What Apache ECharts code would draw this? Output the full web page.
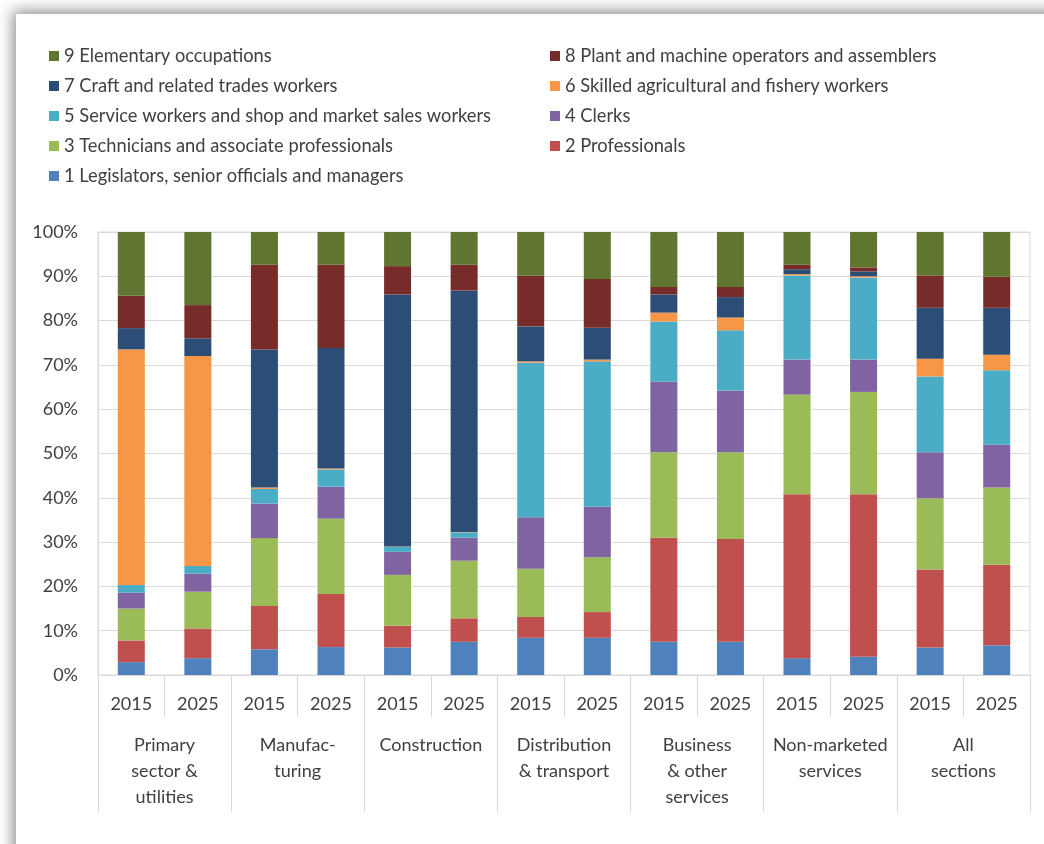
<!DOCTYPE html>
<html>
<head>
<meta charset="utf-8">
<script src="https://cdn.jsdelivr.net/npm/echarts@6/dist/echarts.min.js"></script>
<style>
  html, body { margin: 0; padding: 0; width: 1044px; height: 844px; overflow: hidden; background: #ffffff; }
  #frame { position: absolute; left: 16px; top: 14px; width: 1200px; height: 1000px; background: #fff;
           box-shadow: 0 0 14px 3px rgba(0,0,0,0.45); }
  #chart { position: absolute; left: 0; top: 0; width: 1044px; height: 844px; }
</style>
</head>
<body>
<div id="frame"></div>
<div id="chart"></div>
<script>
// Categories
const groups = ["Primary\nsector &\nutilities", "Manufac-\nturing", "Construction", "Distribution\n& transport", "Business\n& other\nservices", "Non-marketed\nservices", "All\nsections"];
const years = ["2015", "2025", "2015", "2025", "2015", "2025", "2015", "2025", "2015", "2025", "2015", "2025", "2015", "2025"];
const yTicks = [0, 10, 20, 30, 40, 50, 60, 70, 80, 90, 100];

// Series names
const names = [
  "1 Legislators, senior officials and managers",
  "2 Professionals",
  "3 Technicians and associate professionals",
  "4 Clerks",
  "5 Service workers and shop and market sales workers",
  "6 Skilled agricultural and fishery workers",
  "7 Craft and related trades workers",
  "8 Plant and machine operators and assemblers",
  "9 Elementary occupations"
];

// Series values (% share), order follows years/groups
const occ1 = [2.9, 3.8, 5.8, 6.3, 6.2, 7.5, 8.4, 8.4, 7.5, 7.5, 3.8, 4.1, 6.2, 6.7];
const occ2 = [4.9, 6.7, 9.8, 12.0, 4.9, 5.3, 4.7, 5.8, 23.5, 23.2, 37.0, 36.7, 17.6, 18.2];
const occ3 = [7.2, 8.3, 15.3, 17.0, 11.5, 13.0, 10.9, 12.4, 19.3, 19.6, 22.5, 23.1, 16.1, 17.4];
const occ4 = [3.6, 4.1, 7.8, 7.2, 5.2, 5.2, 11.6, 11.4, 15.9, 13.9, 7.9, 7.3, 10.4, 9.7];
const occ5 = [1.7, 1.7, 3.3, 3.9, 1.1, 1.2, 34.9, 32.8, 13.6, 13.6, 19.0, 18.5, 17.1, 16.8];
const occ6 = [53.2, 47.4, 0.3, 0.2, 0.1, 0.1, 0.3, 0.4, 2.0, 2.9, 0.3, 0.3, 4.0, 3.5];
const occ7 = [4.8, 4.0, 31.2, 27.2, 56.9, 54.5, 7.9, 7.2, 4.1, 4.6, 1.1, 1.1, 11.5, 10.6];
const occ8 = [7.3, 7.5, 19.1, 18.8, 6.4, 5.8, 11.5, 11.0, 1.7, 2.3, 1.0, 0.9, 7.3, 7.0];
const occ9 = [14.4, 16.5, 7.4, 7.4, 7.7, 7.4, 9.8, 10.6, 12.4, 12.4, 7.4, 8.0, 9.8, 10.1];

const values = [occ1, occ2, occ3, occ4, occ5, occ6, occ7, occ8, occ9];
const colors = ["#4F81BD", "#C0504D", "#9BBB59", "#8064A2", "#4BACC6", "#F79646", "#2C4D75", "#772C2A", "#5F7530"];

const FONT = "Lato";
const TXT = "#404040";
const GRID = "#D9D9D9";

const chart = echarts.init(document.getElementById('chart'), null, { renderer: 'canvas' });

const legendCommon = {
  orient: 'vertical',
  top: 41,
  itemWidth: 10,
  itemHeight: 10,
  itemGap: 10,
  icon: 'rect',
  selectedMode: false,
  textStyle: { fontFamily: FONT, fontSize: 18.3, color: TXT, lineHeight: 20 }
};

chart.setOption({
  animation: false,
  textStyle: { fontFamily: FONT },
  color: colors,
  legend: [
    Object.assign({}, legendCommon, { left: 44, data: [names[8], names[6], names[4], names[2], names[0]] }),
    Object.assign({}, legendCommon, { left: 545, data: [names[7], names[5], names[3], names[1]] })
  ],
  grid: {
    left: 98, right: 14, top: 232, bottom: 169,
    show: true, borderColor: GRID, borderWidth: 1, containLabel: false
  },
  xAxis: [
    {
      type: 'category',
      data: years,
      position: 'bottom',
      axisLine: { show: true, lineStyle: { color: GRID } },
      axisTick: { show: true, length: 42, lineStyle: { color: GRID } },
      axisLabel: { interval: 0, margin: 18, fontFamily: FONT, fontSize: 18, color: TXT, lineHeight: 22 }
    },
    {
      type: 'category',
      data: groups,
      position: 'bottom',
      axisLine: { show: false },
      axisTick: { show: true, length: 137, lineStyle: { color: GRID } },
      axisLabel: { interval: 0, margin: 57, fontFamily: FONT, fontSize: 18, color: TXT, lineHeight: 26 }
    }
  ],
  yAxis: {
    type: 'value',
    min: yTicks[0],
    max: yTicks[yTicks.length - 1],
    interval: 10,
    axisLine: { show: true, lineStyle: { color: GRID } },
    axisTick: { show: false },
    splitLine: { show: true, lineStyle: { color: GRID } },
    axisLabel: { formatter: '{value}%', margin: 20, fontFamily: FONT, fontSize: 18, color: TXT }
  },
  series: names.map((n, i) => ({
    name: n,
    type: 'bar',
    stack: 'total',
    xAxisIndex: 0,
    barWidth: 27,
    itemStyle: { color: colors[i] },
    data: values[i]
  }))
});
</script>
</body>
</html>
